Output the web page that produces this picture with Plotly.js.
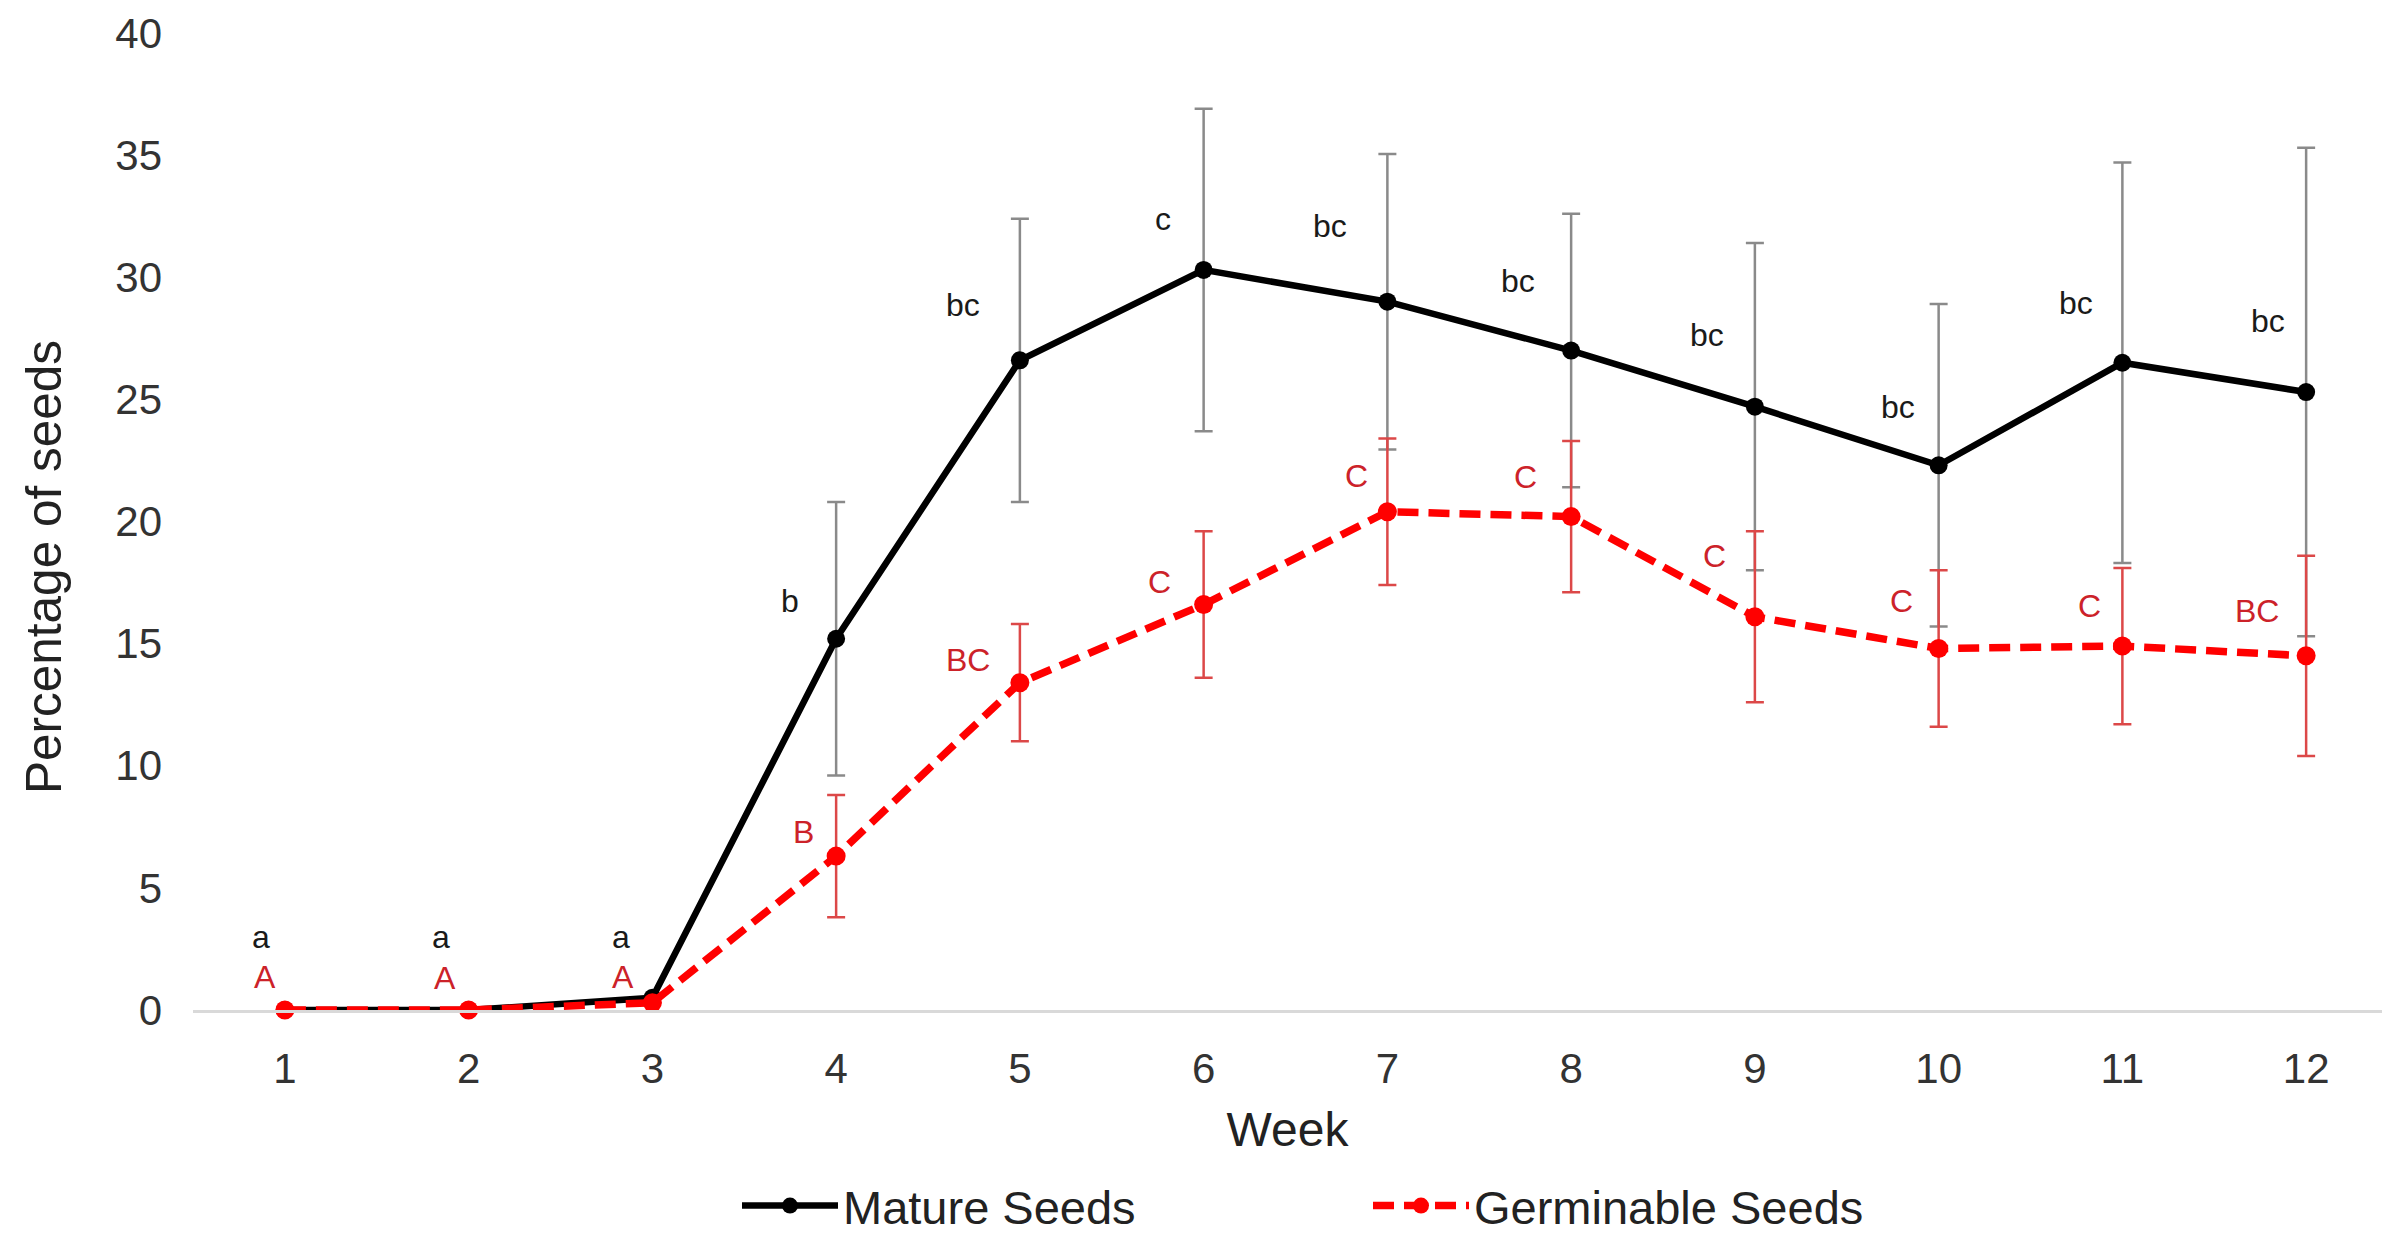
<!DOCTYPE html>
<html>
<head>
<meta charset="utf-8">
<script src="https://cdn.plot.ly/plotly-3.0.1.min.js"></script>
<style>
  html, body { margin: 0; padding: 0; background: #ffffff; overflow: hidden; }
  #chart { width: 2382px; height: 1234px; }
</style>
</head>
<body>
<div id="chart"></div>
<script>
// ---- data ----
const weeks = [1, 2, 3, 4, 5, 6, 7, 8, 9, 10, 11, 12];
const weekLabels = ['1', '2', '3', '4', '5', '6', '7', '8', '9', '10', '11', '12'];

const matureSeeds = [0, 0, 0.5, 15.2, 26.6, 30.3, 29.0, 27.0, 24.7, 22.3, 26.5, 25.3];
const matureErr   = [0, 0, 0, 5.6, 5.8, 6.6, 6.05, 5.6, 6.7, 6.6, 8.2, 10.0];

const germinableSeeds = [0, 0, 0.3, 6.3, 13.4, 16.6, 20.4, 20.2, 16.1, 14.8, 14.9, 14.5];
const germinableErr   = [0, 0, 0, 2.5, 2.4, 3.0, 3.0, 3.1, 3.5, 3.2, 3.2, 4.1];

// significance letters and where they sit (in week / percentage units)
const matureLetters = ['a', 'a', 'a', 'b', 'bc', 'c', 'bc', 'bc', 'bc', 'bc', 'bc', 'bc'];
const matureLetterX = [0.87, 1.85, 2.83, 3.75, 4.69, 5.78, 6.69, 7.71, 8.74, 9.78, 10.75, 11.79];
const matureLetterY = [2.98, 2.98, 3.0, 16.76, 28.86, 32.39, 32.09, 29.85, 27.64, 24.68, 28.93, 28.2];

const germLetters = ['A', 'A', 'A', 'B', 'BC', 'C', 'C', 'C', 'C', 'C', 'C', 'BC'];
const germLetterX = [0.89, 1.87, 2.84, 3.82, 4.72, 5.76, 6.83, 7.75, 8.78, 9.80, 10.82, 11.73];
const germLetterY = [1.36, 1.30, 1.37, 7.29, 14.34, 17.54, 21.86, 21.81, 18.57, 16.76, 16.53, 16.34];

const yTicks = [0, 5, 10, 15, 20, 25, 30, 35, 40];

// ---- styling ----
const FONT = 'Liberation Sans, Arial, Helvetica, sans-serif';
const W = 2382, H = 1234;
const M = { l: 193, r: 0, t: 33, b: 224 };
const plotW = W - M.l - M.r, plotH = H - M.t - M.b;

const traces = [
  {
    x: weeks, y: matureSeeds, name: 'Mature Seeds',
    type: 'scatter', mode: 'lines+markers',
    line: { color: '#000000', width: 6.5 },
    marker: { color: '#000000', size: 18 },
    error_y: { type: 'data', array: matureErr, visible: true, color: '#8a8a8a', thickness: 2.5, width: 9 },
    cliponaxis: false
  },
  {
    x: weeks, y: germinableSeeds, name: 'Germinable Seeds',
    type: 'scatter', mode: 'lines+markers',
    line: { color: '#ff0000', width: 7.5, dash: '21px,10px' },
    marker: { color: '#ff0000', size: 19 },
    error_y: { type: 'data', array: germinableErr, visible: true, color: '#dc4848', thickness: 2.5, width: 9 },
    cliponaxis: false
  }
];

const annotations = [];
matureLetters.forEach((t, i) => annotations.push({
  x: matureLetterX[i], y: matureLetterY[i], xref: 'x', yref: 'y', text: t, showarrow: false,
  font: { family: FONT, size: 32, color: '#1a1a1a' }, xanchor: 'center', yanchor: 'middle'
}));
germLetters.forEach((t, i) => annotations.push({
  x: germLetterX[i], y: germLetterY[i], xref: 'x', yref: 'y', text: t, showarrow: false,
  font: { family: FONT, size: 32, color: '#cc2229' }, xanchor: 'center', yanchor: 'middle'
}));
// y-axis title (placed as in the reference, slightly below plot centre)
annotations.push({
  xref: 'paper', yref: 'paper', x: (43 - M.l) / plotW, y: (M.t + plotH - 567) / plotH,
  text: 'Percentage of seeds', textangle: -90, showarrow: false,
  font: { family: FONT, size: 49.5, color: '#222222' }, xanchor: 'center', yanchor: 'middle'
});

const layout = {
  width: W, height: H,
  margin: M,
  paper_bgcolor: '#ffffff', plot_bgcolor: '#ffffff',
  font: { family: FONT, color: '#222222' },
  showlegend: true,
  legend: {
    orientation: 'h', xref: 'paper', yref: 'container',
    x: (737 - M.l) / plotW, xanchor: 'left',
    y: 1 - 1206 / H, yanchor: 'middle',
    font: { family: FONT, size: 47, color: '#222222' },
    itemwidth: 96, entrywidth: 520, entrywidthmode: 'pixels',
    bgcolor: 'rgba(0,0,0,0)', borderwidth: 0, tracegroupgap: 0
  },
  xaxis: {
    range: [0.5, 0.5 + (weeks.length) * plotW / 2205], // plot area of the original is cropped at the right edge
    tickmode: 'array', tickvals: weeks, ticktext: weekLabels,
    showgrid: false, zeroline: false,
    showline: true, linecolor: '#d9d9d9', linewidth: 2.5,
    ticks: '', ticklabelstandoff: 20,
    tickfont: { family: FONT, size: 42, color: '#333333' },
    title: { text: 'Week', font: { family: FONT, size: 48, color: '#222222' }, standoff: 22 },
    fixedrange: true
  },
  yaxis: {
    range: [0, 40], tickmode: 'array', tickvals: yTicks,
    showgrid: false, zeroline: false, showline: false,
    ticks: '', ticklabelstandoff: 30,
    tickfont: { family: FONT, size: 42, color: '#333333' },
    fixedrange: true
  },
  annotations: annotations
};

Plotly.newPlot('chart', traces, layout, { displayModeBar: false, staticPlot: true });
</script>
</body>
</html>
